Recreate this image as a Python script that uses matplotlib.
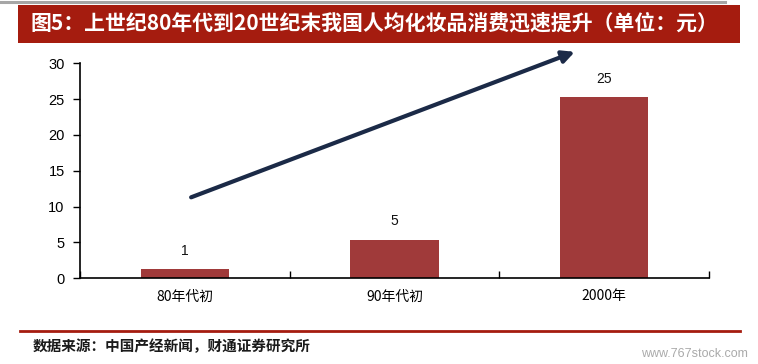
import matplotlib
matplotlib.use("Agg")
import matplotlib.pyplot as plt
from matplotlib.patches import Rectangle
from matplotlib.lines import Line2D

plt.rcParams['font.family'] = ['Liberation Sans', 'Noto Sans CJK SC', 'DejaVu Sans']

categories = ['80年代初', '90年代初', '2000年']
values = [1.3, 5.4, 25.3]
value_labels = ['1', '5', '25']
yticks = [0, 5, 10, 15, 20, 25, 30]
title = '图5：上世纪80年代到20世纪末我国人均化妆品消费迅速提升（单位：元）'
source = '数据来源：中国产经新闻，财通证券研究所'
watermark = 'www.767stock.com'

W, H = 758, 364
fig = plt.figure(figsize=(W / 100, H / 100), dpi=100)

def fx(px):
    return px / W

def fy(py):
    return 1 - py / H

# top gray line
fig.add_artist(Line2D([fx(0), fx(725)], [fy(1.5), fy(1.5)], color='#A6A6A6', lw=2.2))
# title bar
fig.add_artist(Rectangle((fx(18), fy(43)), fx(740) - fx(18), fy(5) - fy(43),
                         facecolor='#A51C0F', edgecolor='none'))
fig.text(fx(31), fy(23), title, color='white', fontsize=15, fontweight='bold',
         family=['Noto Sans CJK SC'], va='center', ha='left')

# bottom red line
fig.add_artist(Line2D([fx(20), fx(740)], [fy(331), fy(331)], color='#A51C0F', lw=2))
fig.text(fx(33), fy(346), source, color='#1a1a1a', fontsize=10.5, fontweight='bold',
         family=['Noto Sans CJK SC'], va='center', ha='left')
fig.text(fx(748), fy(354), watermark, color='#AAAAAA', fontsize=9,
         va='center', ha='right')

ax = fig.add_axes([fx(80), fy(278.3), fx(709) - fx(80), fy(63.3) - fy(278.3)])
x = list(range(len(categories)))
ax.bar(x, values, width=0.42, color='#A03A3A', zorder=2)
for xi, v, lab in zip(x, values, value_labels):
    ax.annotate(lab, (xi, v), xytext=(0, 8), textcoords='offset points',
                ha='center', va='bottom', fontsize=10, color='#111111')

ax.set_xlim(-0.5, len(categories) - 0.5)
ax.set_ylim(0, 30)
ax.set_yticks(yticks)
ax.tick_params(axis='y', direction='out', length=5, width=1, labelsize=10.5, pad=6)
ax.set_xticks([i - 0.5 for i in range(len(categories) + 1)], minor=False)
ax.set_xticklabels([])
ax.tick_params(axis='x', which='major', direction='in', length=5, width=1)
ax.set_xticks(x, minor=True)
ax.set_xticklabels(categories, minor=True, family=['Noto Sans CJK SC'], fontsize=10)
ax.tick_params(axis='x', which='minor', length=0, pad=8)
for s in ['top', 'right']:
    ax.spines[s].set_visible(False)
for s in ['left', 'bottom']:
    ax.spines[s].set_linewidth(1.2)

# trend arrow
ax.annotate('', xy=(1.86, 31.6), xytext=(0.03, 11.3),
            arrowprops=dict(arrowstyle='-|>', color='#1B2A47', lw=3,
                            mutation_scale=18, shrinkA=0, shrinkB=0),
            annotation_clip=False)

fig.savefig('out.png', dpi=100)
